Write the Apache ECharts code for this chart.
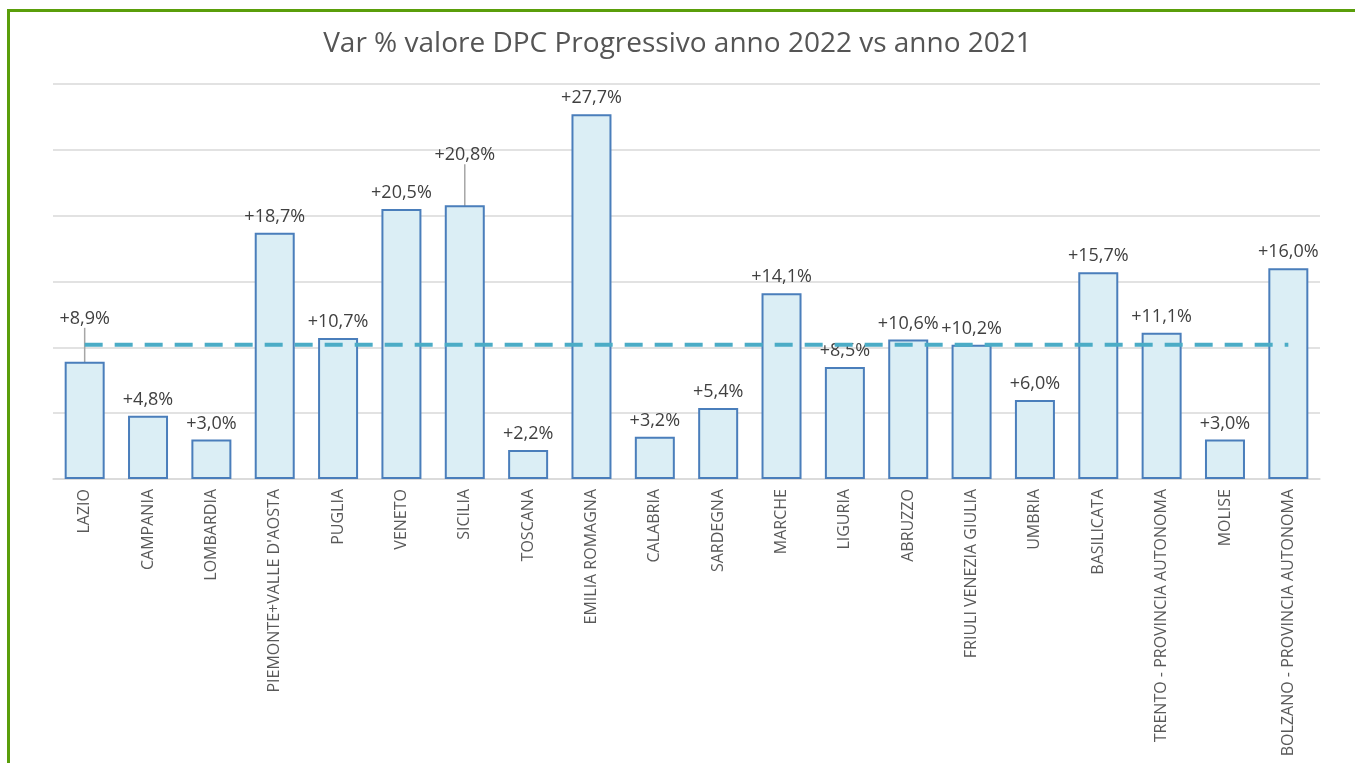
<!DOCTYPE html>
<html>
<head>
<meta charset="utf-8">
<script src="https://cdn.jsdelivr.net/npm/echarts@6/dist/echarts.min.js"></script>
<style>
html,body{margin:0;padding:0;background:#fff;}
#wrap{position:relative;width:1355px;height:763px;overflow:hidden;background:#fff;}
#frame{position:absolute;left:7px;top:9px;width:1360px;height:800px;border-top:3px solid #5a9e0a;border-left:3px solid #5a9e0a;}
#chart{position:absolute;left:0;top:0;width:1355px;height:763px;}
</style>
</head>
<body>
<div id="wrap">
<div id="frame"></div>
<div id="chart"></div>
</div>
<script>
const title = "Var % valore DPC Progressivo anno 2022 vs anno 2021";
const categories = ["LAZIO","CAMPANIA","LOMBARDIA","PIEMONTE+VALLE D'AOSTA","PUGLIA","VENETO","SICILIA","TOSCANA","EMILIA ROMAGNA","CALABRIA","SARDEGNA","MARCHE","LIGURIA","ABRUZZO","FRIULI VENEZIA GIULIA","UMBRIA","BASILICATA","TRENTO - PROVINCIA AUTONOMA","MOLISE","BOLZANO - PROVINCIA AUTONOMA"];
const values = [8.9,4.8,3.0,18.7,10.7,20.5,20.8,2.2,27.7,3.2,5.4,14.1,8.5,10.6,10.2,6.0,15.7,11.1,3.0,16.0];
const averageValue = 10.2;
const yMin = 0, yMax = 30, yStep = 5;

// labels lifted above their bars with a leader line (by category index)
const lifted = {0: -27, 6: -34};

const avgLine = categories.map(() => averageValue);
const barData = values.map((v, i) => (i in lifted) ? {value: v, labelLine: {show: true}} : v);
const chart = echarts.init(document.getElementById('chart'), null, {renderer:'canvas'});
const fmt = v => '+' + v.toFixed(1).replace('.', ',') + '%';
chart.setOption({
  animation:false,
  backgroundColor:'transparent',
  title:{text:title,left:'center',top:25,textStyle:{fontFamily:'Open Sans',fontSize:28,fontWeight:'normal',color:'#555555'}},
  grid:{left:53,right:35,top:84,bottom:284},
  xAxis:{type:'category',data:categories,
    axisLine:{lineStyle:{color:'#d9d9d9',width:1.5}},axisTick:{show:false},
    axisLabel:{rotate:90,interval:0,fontFamily:'Open Sans',fontSize:16,color:'#595959',margin:10}},
  yAxis:{type:'value',min:yMin,max:yMax,interval:yStep,axisLabel:{show:false},axisLine:{show:false},axisTick:{show:false},
    splitLine:{lineStyle:{color:'#d9d9d9',width:1.5}}},
  series:[
    {type:'bar',data:barData,barWidth:40,
     itemStyle:{color:'#dbeef5',borderColor:'#4a7ebb',borderWidth:2},
     label:{show:true,position:'top',distance:7,formatter:p=>fmt(p.value),fontFamily:'Open Sans',fontSize:18,color:'#404040'},
     labelLine:{show:false,lineStyle:{color:'#a6a6a6',width:1.5}},
     labelLayout:function(p){
       if(p.dataIndex in lifted) return {dy:lifted[p.dataIndex]};
       return {};
     },
     z:2},
    {type:'line',data:avgLine,symbol:'none',silent:true,
     lineStyle:{color:'#4bacc6',width:4,type:[18,12]},z:3}
  ]
});
</script>
</body>
</html>
